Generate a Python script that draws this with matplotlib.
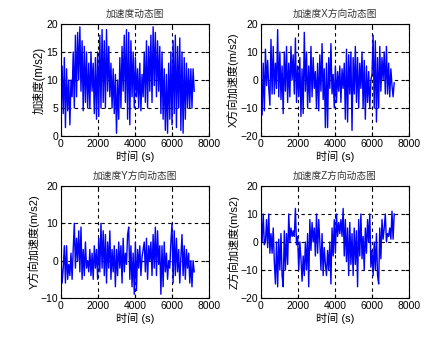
import numpy as np
import matplotlib
matplotlib.use("Agg")
import matplotlib.pyplot as plt

plt.rcParams['font.family'] = ['Liberation Sans', 'Noto Sans CJK SC', 'DejaVu Sans']

dt = 60  # sampling interval (s)

acc_total = [3.5, 12.5, 4, 14, 1.5, 12, 4.5, 10, 2, 10, 7, 15, 5, 18, 7, 18.5, 10, 19.5, 8, 17,
             4.5, 16, 6, 15, 5, 13, 5, 15, 8, 13, 4, 14, 3, 15, 3.5, 18, 5, 19, 6, 17,
             5, 19, 8, 16, 7, 13, 5, 12, 4, 11, 0.5, 10, 3, 14, 5, 16, 8, 18, 6, 19,
             3, 18.5, 2, 17, 7, 15, 5, 14, 7, 12, 5, 13, 4.5, 11, 7, 15, 6, 17, 5, 16,
             8, 18, 6, 19.5, 9, 18.5, 7, 17, 8, 16, 4, 15, 3, 12, 1, 11, 0.5, 13, 3, 15,
             2, 17, 4, 18, 1.5, 16, 5, 17.5, 1, 15, 0.5, 14, 3, 13, 5, 12, 5, 12, 5, 12, 8]

acc_x = [3, -12.5, 6, -11, 11, -2, 7, -3, -9, 14.5, -5, 12, -5, 6, -3, 18, -6, 10, -7, 5,
         -12, 10, -4, 12, -8, 6, -6, 12, 0, 9, -5, 15, -8, 5, -6, 8, -13, 4, -12, 17,
         -4, 10, -10, 5, -8, 12, -6, 8, -3, 3, -10, 6, -11, 9, -4, 13, -7, 4, -17, 6,
         -17, 8, -3, 13, -5, 2, -10, 5, -8, 3, -4, 5, -8, 4, -3, 6, -14, 11, -15, 9,
         -5, 10, -18, 8, -5, 12, -8, 8, -10, 6, -3, 10, -10, 7, -14, 5, -8, 3, -10, 0,
         2, 16, -10, 14, -15, 8, -10, 12, -4, 8, 0, 10, -5, 12, -5, 6, -6, 4, -2, -6, -1]

acc_y = [1, -6, -2, 4, -6, 4, -5, -1, -4, 2, -5, 3, 10, -2, 6, 0, 8, -3, 9, -5,
         3, -4, 5, -2, 0, -3, 3, -4, 2, -5, 4, -2, 3, -5, 6, -3, 10, -2, 8, -4,
         7, -6, 5, -2, 8, -5, 3, -3, 4, -7, 3, -4, 5, -2, 4, -6, 6, -3, 2, -1,
         7, 9, -5, 4, -7, 2, -9, 5, -8, 3, -2, 4, -4, 1, 3, 5, -3, 6, -5, 4,
         0, 5, -4, 7, -2, 9, -4, 8, -1, 4, -9, 4, -7, 5, -3, 2, -5, 0, -2, 5,
         10, -6, 8, -4, 6, -3, 3, -6, 1, 7, -4, 4, -5, 3, -2, 2, -6, 0, -7, 0, -3]

acc_z = [10, 0, 10, -1, 0, 8, -2, 10, -4, 3, -4, 5, -7, -15, 0, -16, 1, -10, 3, -12,
         -16, 4, -10, 3, -8, 10, 0, 5, 2, 4, 2, 12, -1, 2, -10, 0, -6, -14, -5, -12,
         0, -10, 3, -16, 8, -3, 7, 0, 5, -5, 10, -4, 8, 0, -10, 3, -12, -2, -8, -12,
         -3, -10, 0, -15, 5, -5, 8, -4, 10, 2, 7, 3, 8, 2, 12, -5, 8, -7, 5, -12,
         7, -8, 3, -12, 5, -8, 4, -16, 8, -5, 10, -6, 2, -10, 5, -4, 8, 0, 10, -9,
         -3, -12, 0, -10, 3, -12, -15, 5, -6, 8, 1, 5, 10, 0, 3, 2, 5, 1, 11, 1, 10]

titles = ['加速度动态图', '加速度X方向动态图', '加速度Y方向动态图', '加速度Z方向动态图']
ylabels = ['加速度(m/s2)', 'X方向加速度(m/s2)', 'Y方向加速度(m/s2)', 'Z方向加速度(m/s2)']
xlabel = '时间 (s)'
ylims = [(0, 20), (-20, 20), (-10, 20), (-20, 20)]
yticks = [[0, 5, 10, 15, 20], [-20, -10, 0, 10, 20], [-10, 0, 10, 20], [-20, -10, 0, 10, 20]]
xticks = [0, 2000, 4000, 6000, 8000]
series = [acc_total, acc_x, acc_y, acc_z]

fig = plt.figure(figsize=(4.32, 3.40), dpi=100)
positions = [
    [61/432, 1-136/340, 148/432, 112/340],
    [261/432, 1-136/340, 148/432, 112/340],
    [61/432, 1-298/340, 148/432, 112/340],
    [261/432, 1-298/340, 148/432, 112/340],
]

for i in range(4):
    ax = fig.add_axes(positions[i])
    vals = np.array(series[i], dtype=float)
    t = np.arange(len(vals)) * dt
    ax.plot(t, vals, color='#0000ff', lw=1.0)
    ax.set_xlim(0, 8000)
    ax.set_ylim(*ylims[i])
    ax.set_xticks(xticks)
    ax.set_yticks(yticks[i])
    ax.grid(True, color='black', linestyle=(0, (3, 3)), linewidth=0.8)
    ax.tick_params(direction='in', length=3, labelsize=7.5, pad=2, top=True, right=True)
    for s in ax.spines.values():
        s.set_linewidth(0.8)
    ax.set_title(titles[i], fontsize=7, pad=5, color='#333333')
    ax.set_xlabel(xlabel, fontsize=8, labelpad=1)
    ax.set_ylabel(ylabels[i], fontsize=8.3 if i == 0 else 8, labelpad=1)

fig.savefig('out.png', dpi=100)
